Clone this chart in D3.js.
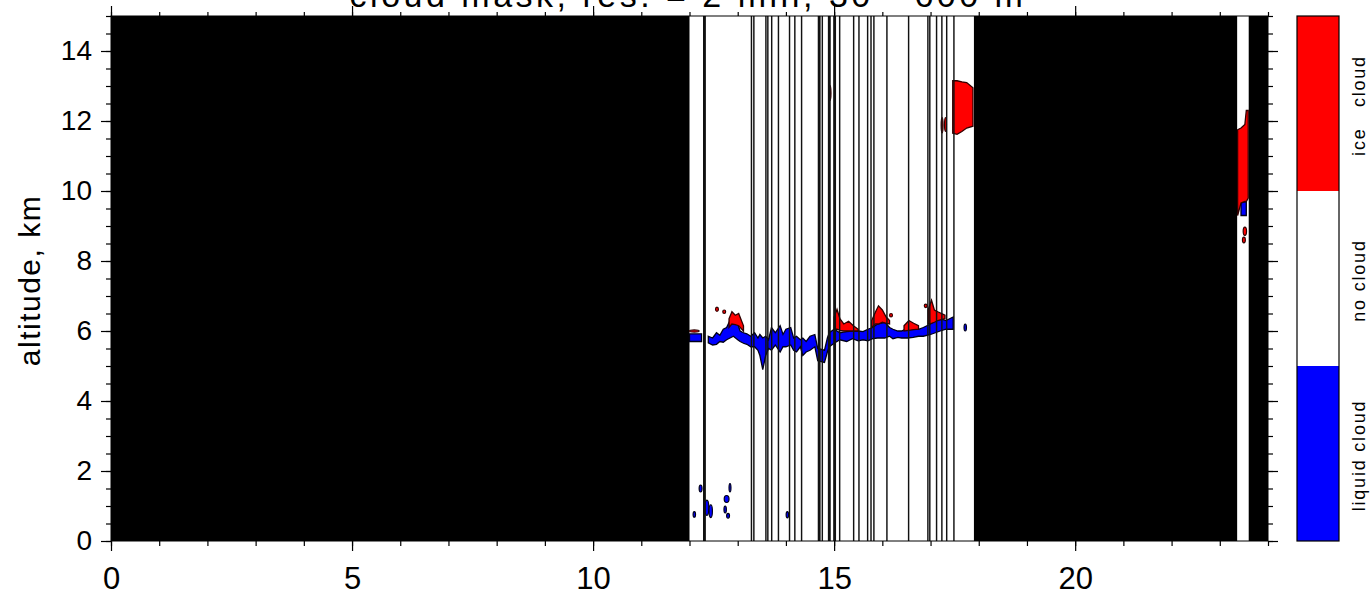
<!DOCTYPE html>
<html>
<head>
<meta charset="utf-8">
<script src="https://cdn.jsdelivr.net/npm/d3@7"></script>
<style>
  body { margin: 0; background: #fff; }
  svg { display: block; font-family: "Liberation Sans", Arial, sans-serif; }
</style>
</head>
<body>
<div id="chart"></div>
<script>
/* --- data (hours UTC, km) --- */
const titleText = "cloud mask, res. = 2 min, 30 - 600 m";
const yLabel = "altitude, km";
const classes = ["liquid cloud", "no cloud", "ice cloud"];
const classColors = ["#0000ff", "#ffffff", "#ff0000"];

/* periods with no data (drawn black) */
const noData = [[0, 12.0], [17.9, 23.36], [23.6, 24]];

/* single-profile gaps inside the white period: [hour, columns of 2 min] */
const gaps = [
  [12.28, 2], [13.27, 1], [13.32, 1], [13.57, 1], [13.61, 1], [13.69, 1],
  [13.83, 1], [14.06, 1], [14.17, 1], [14.31, 1], [14.66, 2], [14.74, 1],
  [14.87, 2], [14.98, 2], [15.10, 1], [15.39, 1], [15.50, 1], [15.68, 1],
  [15.75, 1], [15.81, 1], [16.08, 1], [16.53, 1], [16.93, 1], [16.97, 1],
  [17.11, 1], [17.22, 1], [17.32, 1], [17.47, 1]
];

/* liquid layers: [hour, base km, top km] */
const liquidLayers = [
  [[12.00, 5.70, 5.92], [12.25, 5.70, 5.92]],
  [[12.39, 5.66, 5.85], [12.48, 5.60, 5.80], [12.56, 5.62, 5.95], [12.63, 5.70, 5.88],
   [12.70, 5.68, 6.05], [12.77, 5.75, 6.10], [12.84, 5.80, 6.30], [12.91, 5.85, 6.25],
   [13.00, 5.75, 6.20], [13.05, 5.70, 6.00], [13.12, 5.65, 5.95], [13.19, 5.62, 5.92],
   [13.27, 5.55, 5.85], [13.35, 5.55, 5.95], [13.42, 5.45, 5.80], [13.46, 5.30, 5.90],
   [13.52, 4.90, 5.80], [13.58, 5.30, 5.85], [13.64, 5.50, 5.75], [13.70, 5.45, 6.10],
   [13.78, 5.60, 5.95], [13.88, 5.40, 6.15], [13.94, 5.55, 5.90], [14.00, 5.55, 6.05],
   [14.10, 5.60, 6.10], [14.16, 5.45, 5.80], [14.22, 5.40, 5.85], [14.30, 5.55, 5.75],
   [14.35, 5.30, 5.80], [14.42, 5.40, 5.70], [14.50, 5.45, 5.85], [14.60, 5.55, 5.90],
   [14.66, 5.15, 5.50], [14.80, 5.10, 5.45], [14.86, 5.40, 5.80], [14.90, 5.55, 5.95],
   [15.00, 5.65, 6.05], [15.12, 5.75, 5.95], [15.26, 5.70, 5.98], [15.38, 5.78, 6.00],
   [15.50, 5.72, 6.00], [15.60, 5.75, 5.98], [15.70, 5.72, 6.05], [15.80, 5.78, 6.10],
   [15.90, 5.80, 6.20], [16.05, 5.80, 6.25], [16.15, 5.85, 6.10], [16.22, 5.78, 6.05],
   [16.32, 5.82, 6.00], [16.40, 5.80, 6.00], [16.52, 5.80, 6.08], [16.64, 5.82, 6.05],
   [16.75, 5.85, 6.05], [16.85, 5.85, 6.10], [17.00, 5.90, 6.20], [17.10, 5.95, 6.30],
   [17.20, 6.00, 6.35], [17.32, 6.05, 6.30], [17.47, 6.05, 6.40]],
  [[23.44, 9.30, 9.66], [23.55, 9.30, 9.70]]
];

/* ice layers: [hour, base km, top km] */
const iceLayers = [
  [[12.82, 6.10, 6.35], [12.88, 6.20, 6.55], [12.95, 6.18, 6.45], [13.02, 6.15, 6.50], [13.12, 6.00, 6.15]],
  [[15.00, 6.05, 6.40], [15.06, 6.05, 6.62], [15.12, 6.02, 6.35], [15.20, 6.00, 6.20], [15.30, 6.00, 6.28], [15.40, 6.00, 6.15], [15.50, 6.00, 6.05]],
  [[15.78, 6.10, 6.30], [15.86, 6.20, 6.55], [15.92, 6.20, 6.72], [16.00, 6.25, 6.60], [16.08, 6.22, 6.40], [16.15, 6.20, 6.30]],
  [[16.45, 6.00, 6.15], [16.55, 6.02, 6.30], [16.65, 6.04, 6.22], [16.75, 6.05, 6.15]],
  [[16.95, 6.20, 6.60], [17.02, 6.22, 6.88], [17.08, 6.25, 6.60], [17.15, 6.30, 6.55], [17.30, 6.35, 6.45]],
  [[17.46, 11.65, 13.15], [17.55, 11.62, 13.15], [17.65, 11.70, 13.12], [17.75, 11.80, 13.10], [17.88, 11.85, 12.95]],
  [[23.37, 9.30, 11.75], [23.44, 9.66, 11.80], [23.52, 9.70, 11.90], [23.55, 9.70, 12.30], [23.59, 9.80, 12.30]]
];

/* small isolated cloud cells: [hour, km, half-width h, half-height km, class] */
const cells = [
  [12.10, 0.76, 0.025, 0.08, 0], [12.23, 1.50, 0.03, 0.10, 0], [12.36, 0.95, 0.04, 0.22, 0],
  [12.44, 0.85, 0.035, 0.18, 0], [12.77, 1.20, 0.05, 0.10, 0], [12.84, 1.52, 0.02, 0.12, 0],
  [12.74, 0.90, 0.025, 0.10, 0], [12.80, 0.72, 0.03, 0.07, 0], [14.03, 0.75, 0.025, 0.09, 0],
  [12.10, 6.00, 0.10, 0.03, 2], [12.57, 6.62, 0.03, 0.06, 2], [12.72, 6.55, 0.03, 0.05, 2],
  [16.18, 6.45, 0.03, 0.05, 2], [16.90, 6.72, 0.03, 0.05, 2], [17.72, 6.10, 0.025, 0.10, 0],
  [14.91, 12.80, 0.025, 0.22, 2], [17.24, 11.88, 0.02, 0.22, 2], [17.31, 11.90, 0.02, 0.20, 2],
  [23.52, 8.85, 0.035, 0.12, 2], [23.50, 8.60, 0.03, 0.08, 2]
];

/* --- layout --- */
const W = 1370, H = 598;
const plot = {left: 111, right: 1268, top: 16, bottom: 541};
const bar = {left: 1297, right: 1339};

const x = d3.scaleLinear().domain([0, 24]).range([plot.left, plot.right]);
const y = d3.scaleLinear().domain([0, 15]).range([plot.bottom, plot.top]);
const yBar = d3.scaleBand().domain(classes.slice().reverse()).range([plot.top, plot.bottom]);

const svg = d3.select("#chart").append("svg")
  .attr("width", W)
  .attr("height", H);

svg.append("defs").append("clipPath").attr("id", "plotClip")
  .append("rect")
    .attr("x", plot.left).attr("y", plot.top)
    .attr("width", plot.right - plot.left).attr("height", plot.bottom - plot.top);

const g = svg.append("g").attr("clip-path", "url(#plotClip)");

g.append("rect")
  .attr("x", plot.left).attr("y", plot.top)
  .attr("width", plot.right - plot.left).attr("height", plot.bottom - plot.top)
  .attr("fill", "#fff");

g.selectAll("rect.nodata")
  .data(noData)
  .join("rect")
    .attr("class", "nodata")
    .attr("x", d => x(d[0]))
    .attr("y", y(15))
    .attr("width", d => x(d[1]) - x(d[0]))
    .attr("height", y(0) - y(15))
    .attr("fill", "#000");

const area = d3.area()
  .x(d => x(d[0]))
  .y0(d => y(d[1]))
  .y1(d => y(d[2]))
  .curve(d3.curveLinear);

g.selectAll("path.liquid")
  .data(liquidLayers)
  .join("path")
    .attr("class", "liquid")
    .attr("d", area)
    .attr("fill", classColors[0])
    .attr("stroke", "#000018")
    .attr("stroke-width", 1.3);

g.selectAll("path.ice")
  .data(iceLayers)
  .join("path")
    .attr("class", "ice")
    .attr("d", area)
    .attr("fill", classColors[2])
    .attr("stroke", "#300000")
    .attr("stroke-width", 1.3);

g.selectAll("ellipse.cell")
  .data(cells)
  .join("ellipse")
    .attr("class", "cell")
    .attr("cx", d => x(d[0]))
    .attr("cy", d => y(d[1]))
    .attr("rx", d => x(d[0] + d[2]) - x(d[0]))
    .attr("ry", d => y(d[1]) - y(d[1] + d[3]))
    .attr("fill", d => classColors[d[4]])
    .attr("stroke", d => d[4] === 0 ? "#000018" : "#300000")
    .attr("stroke-width", 1.2);

/* 2-min data gaps */
const colW = 2 / 60;
g.selectAll("rect.gap")
  .data(gaps)
  .join("rect")
    .attr("class", "gap")
    .attr("x", d => x(d[0]))
    .attr("y", y(15))
    .attr("width", d => Math.max(1.4, x(d[0] + d[1] * colW * 0.9) - x(d[0])))
    .attr("height", y(0) - y(15))
    .attr("fill", "#111");

/* frame */
svg.append("rect")
  .attr("x", plot.left).attr("y", plot.top)
  .attr("width", plot.right - plot.left).attr("height", plot.bottom - plot.top)
  .attr("fill", "none").attr("stroke", "#000").attr("stroke-width", 1);

/* axes */
function styleAxis(sel) {
  sel.select(".domain").remove();
  sel.selectAll(".tick line").attr("stroke", "#000").attr("stroke-width", 1.2);
  sel.selectAll("text").attr("fill", "#000");
}

svg.append("g").attr("transform", `translate(0,${plot.bottom})`)
  .call(d3.axisBottom(x).tickValues(d3.range(0, 25, 1)).tickSize(5).tickFormat(""))
  .call(styleAxis);
svg.append("g").attr("transform", `translate(0,${plot.bottom})`)
  .call(d3.axisBottom(x).tickValues(d3.range(0, 25, 5)).tickSize(10).tickPadding(16).tickFormat(d3.format("d")))
  .call(styleAxis)
  .selectAll("text").style("font-size", "31px");

svg.append("g").attr("transform", `translate(0,${plot.top})`)
  .call(d3.axisTop(x).tickValues(d3.range(0, 25, 1)).tickSize(4).tickFormat(""))
  .call(styleAxis);
svg.append("g").attr("transform", `translate(0,${plot.top})`)
  .call(d3.axisTop(x).tickValues(d3.range(0, 25, 5)).tickSize(10).tickFormat(""))
  .call(styleAxis);

svg.append("g").attr("transform", `translate(${plot.left},0)`)
  .call(d3.axisLeft(y).tickValues(d3.range(0, 15.01, 0.5)).tickSize(5).tickFormat(""))
  .call(styleAxis);
svg.append("g").attr("transform", `translate(${plot.left},0)`)
  .call(d3.axisLeft(y).tickValues(d3.range(0, 15, 2)).tickSize(10).tickPadding(9).tickFormat(d3.format("d")))
  .call(styleAxis)
  .selectAll("text").style("font-size", "28px");

svg.append("g").attr("transform", `translate(${plot.right},0)`)
  .call(d3.axisRight(y).tickValues(d3.range(0, 15.01, 0.5)).tickSize(5).tickFormat(""))
  .call(styleAxis);
svg.append("g").attr("transform", `translate(${plot.right},0)`)
  .call(d3.axisRight(y).tickValues(d3.range(0, 15, 2)).tickSize(10).tickFormat(""))
  .call(styleAxis);

/* axis title */
svg.append("text")
  .attr("transform", `translate(40,${(plot.top + plot.bottom) / 2 + 2}) rotate(-90)`)
  .attr("text-anchor", "middle")
  .style("font-size", "30px")
  .style("letter-spacing", "1.5px")
  .text(yLabel);

/* title, cut off by the top of the page as in the original */
svg.append("text")
  .attr("x", 688).attr("y", 7)
  .attr("text-anchor", "middle")
  .style("font-size", "34px")
  .style("letter-spacing", "3.5px")
  .text(titleText);

/* colour bar */
const cb = svg.append("g");
cb.selectAll("rect")
  .data(classes)
  .join("rect")
    .attr("x", bar.left)
    .attr("y", d => yBar(d))
    .attr("width", bar.right - bar.left)
    .attr("height", yBar.bandwidth())
    .attr("fill", (d, i) => classColors[i]);
cb.append("rect")
  .attr("x", bar.left).attr("y", plot.top)
  .attr("width", bar.right - bar.left).attr("height", plot.bottom - plot.top)
  .attr("fill", "none").attr("stroke", "#000").attr("stroke-width", 1.2);
cb.selectAll("text")
  .data(classes)
  .join("text")
    .attr("transform", d => `translate(1365,${yBar(d) + yBar.bandwidth() / 2 + 2}) rotate(-90)`)
    .attr("text-anchor", "middle")
    .style("font-size", "18px")
    .style("letter-spacing", "1.8px")
    .style("white-space", "pre")
    .text(d => d === "ice cloud" ? "ice   cloud" : d);
</script>
</body>
</html>
